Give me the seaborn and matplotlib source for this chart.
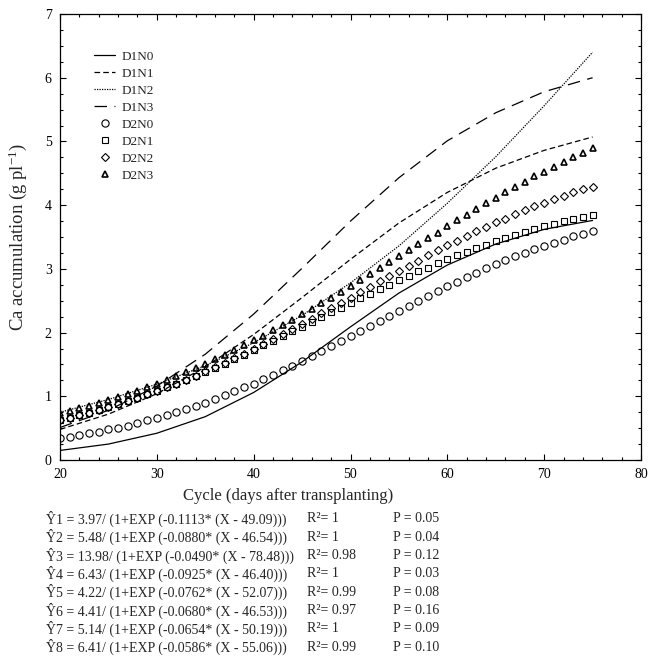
import numpy as np
import pandas as pd
import matplotlib
matplotlib.use("Agg")
import matplotlib.pyplot as plt
from matplotlib.ticker import MultipleLocator
import seaborn as sns

# ------------------ data ------------------
days_line = [20, 25, 30, 35, 40, 45, 50, 55, 60, 65, 70, 75]
d1n0 = [0.15, 0.25, 0.42, 0.68, 1.06, 1.54, 2.09, 2.62, 3.06, 3.39, 3.62, 3.76]
d1n1 = [0.48, 0.72, 1.04, 1.46, 1.97, 2.55, 3.15, 3.72, 4.20, 4.58, 4.86, 5.07]
d1n2 = [0.75, 0.95, 1.19, 1.48, 1.84, 2.27, 2.78, 3.36, 4.03, 4.76, 5.56, 6.40]
d1n3 = [0.51, 0.78, 1.16, 1.66, 2.29, 3.01, 3.75, 4.43, 5.01, 5.45, 5.78, 6.00]

days_pts = list(range(20, 76))
d2n0 = [0.34, 0.36, 0.39, 0.42, 0.44, 0.48, 0.51, 0.54, 0.58, 0.62,
        0.66, 0.71, 0.75, 0.80, 0.85, 0.90, 0.96, 1.02, 1.08, 1.14,
        1.20, 1.27, 1.34, 1.41, 1.48, 1.56, 1.63, 1.71, 1.79, 1.86,
        1.94, 2.02, 2.10, 2.18, 2.26, 2.34, 2.42, 2.50, 2.58, 2.65,
        2.73, 2.80, 2.87, 2.94, 3.01, 3.07, 3.14, 3.20, 3.25, 3.31,
        3.36, 3.41, 3.46, 3.51, 3.55, 3.59]
d2n1 = [0.62, 0.66, 0.70, 0.74, 0.78, 0.83, 0.88, 0.92, 0.97, 1.03,
        1.08, 1.14, 1.20, 1.26, 1.32, 1.38, 1.45, 1.51, 1.58, 1.65,
        1.72, 1.80, 1.87, 1.94, 2.02, 2.09, 2.17, 2.24, 2.32, 2.39,
        2.46, 2.54, 2.61, 2.68, 2.75, 2.82, 2.89, 2.96, 3.02, 3.09,
        3.15, 3.21, 3.27, 3.33, 3.38, 3.43, 3.48, 3.53, 3.58, 3.62,
        3.67, 3.71, 3.75, 3.78, 3.82, 3.85]
d2n2 = [0.63, 0.66, 0.70, 0.74, 0.79, 0.83, 0.88, 0.92, 0.98, 1.03,
        1.08, 1.14, 1.20, 1.26, 1.32, 1.39, 1.46, 1.53, 1.60, 1.67,
        1.74, 1.82, 1.90, 1.98, 2.06, 2.14, 2.22, 2.30, 2.39, 2.47,
        2.55, 2.64, 2.72, 2.81, 2.89, 2.97, 3.05, 3.13, 3.21, 3.29,
        3.37, 3.44, 3.52, 3.59, 3.66, 3.73, 3.79, 3.86, 3.92, 3.98,
        4.04, 4.09, 4.14, 4.20, 4.25, 4.29]
d2n3 = [0.73, 0.77, 0.81, 0.85, 0.89, 0.94, 0.99, 1.04, 1.09, 1.14,
        1.20, 1.26, 1.32, 1.38, 1.45, 1.51, 1.58, 1.65, 1.72, 1.80,
        1.88, 1.95, 2.04, 2.12, 2.20, 2.29, 2.37, 2.46, 2.55, 2.64,
        2.73, 2.83, 2.92, 3.01, 3.11, 3.20, 3.29, 3.39, 3.48, 3.57,
        3.67, 3.76, 3.85, 3.94, 4.03, 4.11, 4.20, 4.28, 4.37, 4.45,
        4.52, 4.60, 4.68, 4.75, 4.82, 4.89]

line_names = ["D1N0", "D1N1", "D1N2", "D1N3"]
pt_names = ["D2N0", "D2N1", "D2N2", "D2N3"]

equations = [
    "\u01761 = 3.97/ (1+EXP (-0.1113* (X - 49.09)))",
    "\u01762 = 5.48/ (1+EXP (-0.0880* (X - 46.54)))",
    "\u01763 = 13.98/ (1+EXP (-0.0490* (X - 78.48)))",
    "\u01764 = 6.43/ (1+EXP (-0.0925* (X - 46.40)))",
    "\u01765 = 4.22/ (1+EXP (-0.0762* (X - 52.07)))",
    "\u01766 = 4.41/ (1+EXP (-0.0680* (X - 46.53)))",
    "\u01767 = 5.14/ (1+EXP (-0.0654* (X - 50.19)))",
    "\u01768 = 6.41/ (1+EXP (-0.0586* (X - 55.06)))",
]
r2_vals = ["1", "1", "0.98", "1", "0.99", "0.97", "1", "0.99"]
p_vals = ["0.05", "0.04", "0.12", "0.03", "0.08", "0.16", "0.09", "0.10"]

# ------------------ style ------------------
sns.set_style("ticks")
plt.rcParams["font.family"] = ["Liberation Serif", "DejaVu Serif"]
plt.rcParams["mathtext.default"] = "regular"

fig = plt.figure(figsize=(6.48, 6.58), dpi=100)
ax = fig.add_axes([60 / 648, 1 - 460 / 658, 581 / 648, 446 / 658])

line_styles = ["-", (0, (4.5, 2.5)), (0, (1, 1)), (0, (10, 6))]
df_lines = pd.DataFrame({"day": days_line * 4,
                         "ca": d1n0 + d1n1 + d1n2 + d1n3,
                         "trt": sum([[n] * len(days_line) for n in line_names], [])})
for name, ls in zip(line_names, line_styles):
    sub = df_lines[df_lines.trt == name]
    sns.lineplot(data=sub, x="day", y="ca", ax=ax, color="black",
                 linestyle=ls, linewidth=0.9, label=name)

markers = ["o", "s", "D", "^"]
msizes = [5.2, 4.6, 4.2, 5.0]
mews = [0.8, 0.8, 0.8, 1.2]
df_pts = pd.DataFrame({"day": days_pts * 4,
                       "ca": d2n0 + d2n1 + d2n2 + d2n3,
                       "trt": sum([[n] * len(days_pts) for n in pt_names], [])})
for name, mk, ms, mw in zip(pt_names, markers, msizes, mews):
    sub = df_pts[df_pts.trt == name]
    sns.lineplot(data=sub, x="day", y="ca", ax=ax, color="black",
                 linestyle="", marker=mk, markersize=ms,
                 markerfacecolor="none", markeredgecolor="black",
                 markeredgewidth=mw, label=name)

ax.set_xlim(20, 80)
ax.set_ylim(0, 7)
ax.xaxis.set_major_locator(MultipleLocator(10))
ax.xaxis.set_minor_locator(MultipleLocator(2))
ax.yaxis.set_major_locator(MultipleLocator(1))
ax.yaxis.set_minor_locator(MultipleLocator(0.25))
ax.tick_params(which="both", direction="in", top=True, right=True,
               labelsize=10, width=0.8, colors="black")
ax.tick_params(which="major", length=4, pad=6)
ax.tick_params(which="minor", length=2.5)
for sp in ax.spines.values():
    sp.set_linewidth(0.9)
    sp.set_color("black")

ax.set_xlabel("Cycle (days after transplanting)", fontsize=12)
ax.set_ylabel("Ca accumulation (g pl$^{-1}$)", fontsize=13.5)
ax.xaxis.set_label_coords((288 - 60) / 581, -0.062)
ax.yaxis.set_label_coords((29 - 60) / 581, 0.5)

leg = ax.legend(loc="upper left", bbox_to_anchor=(0.05, 0.93), frameon=False,
                fontsize=9.5, handlelength=1.6, handletextpad=0.5,
                labelspacing=0.36, borderaxespad=0)

# ------------------ equations below the plot ------------------
for i, (eq, r2, p) in enumerate(zip(equations, r2_vals, p_vals)):
    yy = 1 - (519 + i * 18.3) / 658
    fig.text(46 / 648, yy, eq, fontsize=10, va="center", ha="left")
    fig.text(307 / 648, yy, "R\u00b2= " + r2, fontsize=10, va="center", ha="left")
    fig.text(393 / 648, yy, "P = " + p, fontsize=10, va="center", ha="left")

fig.savefig("out.png", dpi=100)
